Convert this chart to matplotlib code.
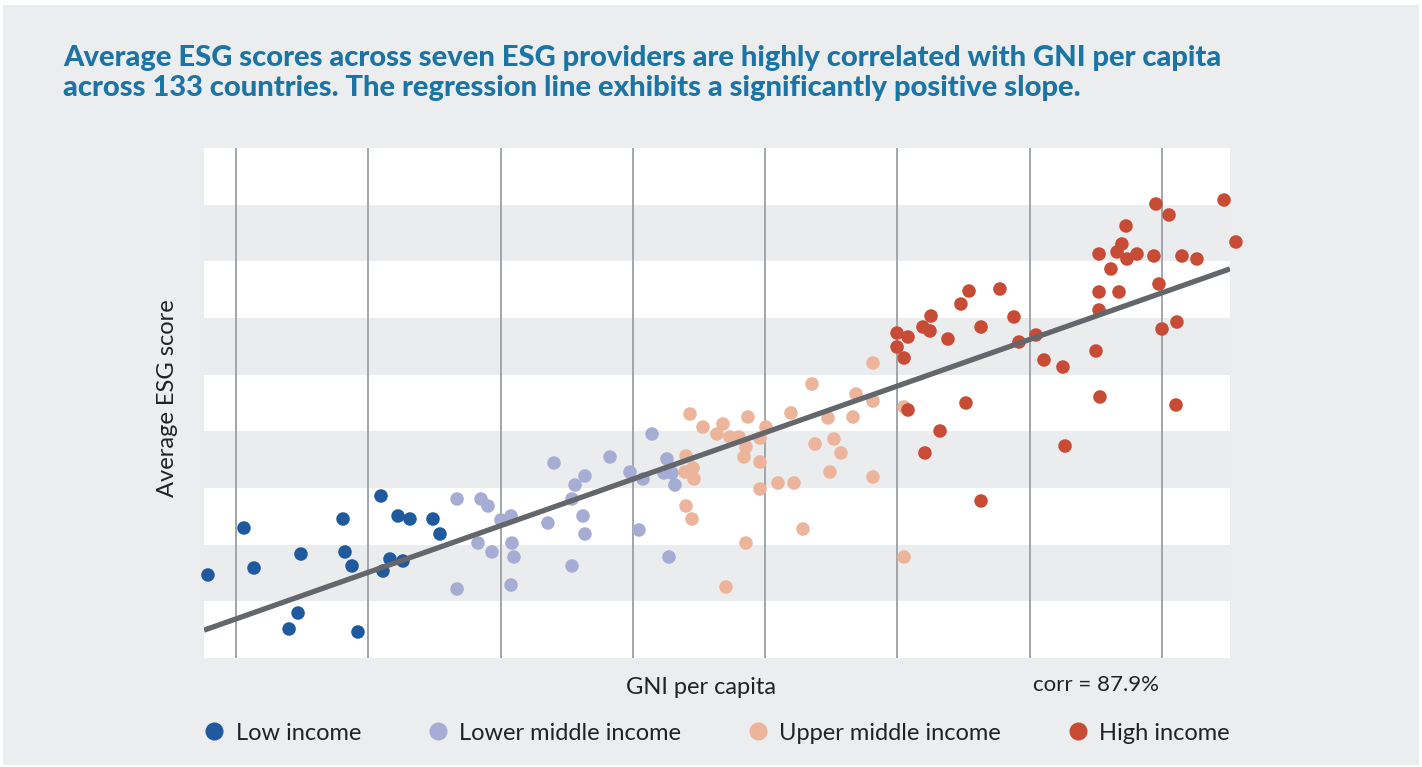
import matplotlib
matplotlib.use("Agg")
import matplotlib.pyplot as plt
from matplotlib.patches import Rectangle
from matplotlib.lines import Line2D

plt.rcParams['font.family'] = ['Lato', 'DejaVu Sans']

# data (x: GNI per capita, grid every 10; y: ESG score, band every 10)
low_x = [-2.12, 0.60, 1.36, 4.91, 4.69, 4.01, 8.09, 8.24, 8.77, 9.22, 10.96, 12.25, 13.15, 14.89, 15.42, 11.64, 11.11, 12.62]
low_y = [14.65, 22.94, 15.88, 18.35, 7.94, 5.12, 24.53, 18.71, 16.24, 4.59, 28.59, 25.06, 24.53, 24.53, 21.88, 17.47, 15.35, 17.12]

lmid_x = [16.71, 18.52, 19.05, 20.03, 20.79, 18.29, 19.35, 20.86, 21.01, 20.79, 16.71, 23.58, 24.04, 25.40, 25.63,
          26.38, 26.23, 26.38, 25.40, 28.27, 29.78, 30.77, 30.46, 31.45, 32.58, 32.35, 32.96, 33.18, 32.73]
lmid_y = [28.06, 28.06, 26.82, 24.35, 25.06, 20.29, 18.71, 20.29, 17.82, 12.88, 12.18, 23.82, 34.41, 28.06, 30.53,
          32.12, 25.06, 21.88, 16.24, 35.47, 32.82, 31.59, 22.59, 39.53, 35.12, 32.65, 32.65, 30.53, 17.82]

umid_x = [34.32, 35.30, 36.36, 36.81, 34.02, 34.55, 33.94, 34.62, 34.02, 34.47, 37.04, 48.15, 43.54, 46.87, 48.15,
          38.70, 41.95, 44.75, 46.64, 37.34, 38.02, 40.06, 39.61, 38.55, 38.40, 39.61, 39.61, 43.77, 45.20, 45.73,
          44.90, 48.15, 40.97, 42.18, 42.86, 38.55, 50.50, 50.50]
umid_y = [43.06, 40.76, 39.53, 41.29, 35.65, 33.53, 32.82, 31.59, 26.82, 24.53, 12.53, 52.06, 48.35, 46.59, 45.35,
          42.53, 43.24, 42.35, 42.53, 39.00, 39.00, 40.76, 38.82, 37.24, 35.47, 34.59, 29.82, 37.76, 38.65, 36.18,
          32.82, 31.94, 30.88, 30.88, 22.76, 20.29, 44.29, 17.82]

high_x = [54.80, 52.54, 51.93, 52.46, 49.97, 50.80, 49.97, 50.50, 53.82, 56.32, 58.81, 59.19, 60.47, 50.80, 55.18,
          53.22, 52.08, 56.32, 55.41, 57.75, 61.08, 62.51, 65.01, 65.31, 62.67, 65.24, 65.24, 65.24, 66.14, 66.75,
          66.60, 66.97, 67.28, 67.35, 68.11, 69.39, 69.54, 70.53, 69.77, 71.51, 72.64, 70.00, 71.13, 71.06, 74.69, 75.59]
high_y = [62.47, 60.35, 58.41, 57.71, 57.35, 56.65, 54.88, 52.94, 56.29, 58.41, 60.18, 55.76, 57.00, 43.76, 45.00,
          40.06, 36.18, 27.71, 64.76, 65.12, 52.59, 51.35, 54.18, 46.06, 37.41, 71.29, 64.59, 61.41, 68.65, 64.59,
          71.65, 73.06, 76.24, 70.41, 71.29, 70.94, 80.12, 78.18, 66.00, 70.94, 70.41, 58.06, 59.29, 44.65, 80.82, 73.41]

groups = ["Low income", "Lower middle income", "Upper middle income", "High income"]
colors = ["#1F5A9E", "#A6ADD4", "#EBB49B", "#C84B36"]

reg_slope = 0.822
reg_intercept = 6.9
corr_text = "corr = 87.9%"

title = ("Average ESG scores across seven ESG providers are highly correlated with GNI per capita\n"
         "across 133 countries. The regression line exhibits a significantly positive slope.")

BG = "#ECEDEF"

fig = plt.figure(figsize=(14.22, 7.67), dpi=100, facecolor="white")
fig.patches.append(Rectangle((3 / 1422, 2 / 767), 1416 / 1422, 760 / 767, transform=fig.transFigure,
                             facecolor=BG, edgecolor="none", zorder=-10))

ax = fig.add_axes([204 / 1422, 1 - 658 / 767, 1026 / 1422, 510 / 767])
ax.set_facecolor("white")
xmin, xmax = -2.42, 75.14
ax.set_xlim(xmin, xmax)
ax.set_ylim(0, 90)

# stripes and grid
for y0 in range(10, 90, 20):
    ax.axhspan(y0, y0 + 10, color="#EBECEE", lw=0, zorder=0)
for gx in range(0, 80, 10):
    ax.axvline(gx, color="#9C9FA3", lw=1.3, zorder=1)

xs = [low_x, lmid_x, umid_x, high_x]
ys = [low_y, lmid_y, umid_y, high_y]
for gx_, gy_, c in zip(xs, ys, colors):
    ax.scatter(gx_, gy_, s=95, color=c, edgecolors="none", zorder=3, clip_on=False)

ax.plot([xmin, xmax], [reg_intercept + reg_slope * xmin, reg_intercept + reg_slope * xmax],
        color="#63666A", lw=3.8, solid_capstyle="butt", zorder=4)

for s in ax.spines.values():
    s.set_visible(False)
ax.set_xticks([])
ax.set_yticks([])

fig.text(63 / 1422, 1 - 45 / 767, title, fontsize=21, fontweight="black", color="#1B74A3",
         va="top", ha="left", linespacing=1.2)
fig.text(168 / 1422, 1 - 398 / 767, "Average ESG score", rotation=90, fontsize=17, color="#222222",
         ha="center", va="center")
fig.text(701 / 1422, 1 - 688 / 767, "GNI per capita", fontsize=17, color="#222222", ha="center", va="center")
fig.text(1096 / 1422, 1 - 685 / 767, corr_text, fontsize=16, color="#222222", ha="center", va="center")

handles = [Line2D([], [], marker="o", ls="none", markersize=13, markerfacecolor=c, markeredgecolor="none")
           for c in colors]
fig.legend(handles, groups, loc="center", bbox_to_anchor=(716 / 1422, 1 - 733 / 767), ncol=4,
           frameon=False, fontsize=17, handletextpad=0.4, columnspacing=2.75, handlelength=1.0,
           labelcolor="#222222")

fig.savefig("out.png", dpi=100, facecolor=fig.get_facecolor())
